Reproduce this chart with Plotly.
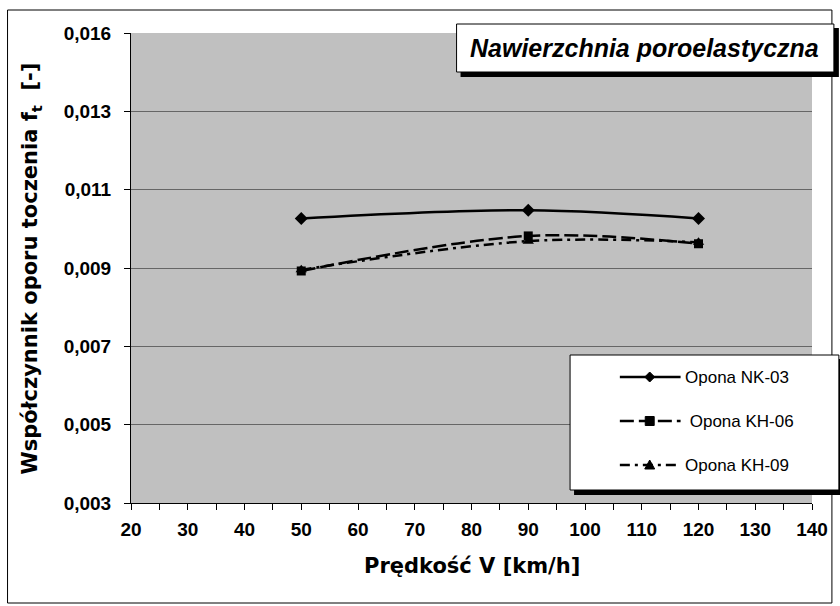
import plotly.graph_objects as go

# ---- data ----
speeds = [50, 90, 120]
nk03 = [0.01063, 0.01085, 0.01063]
kh06 = [0.00922, 0.01016, 0.00995]
kh09 = [0.00925, 0.01002, 0.00999]
series_names = ["Opona NK-03", " Opona KH-06", "Opona KH-09"]

y_tickvals = [0.003, 0.0051, 0.0072, 0.0093, 0.0114, 0.0135, 0.0156]
y_ticktext = ["0,003", "0,005", "0,007", "0,009", "0,011", "0,013", "0,016"]
x_tickvals = list(range(20, 141, 10))
x_ticktext = [str(v) for v in x_tickvals]

title_text = "Nawierzchnia poroelastyczna"
x_title = "Prędkość V [km/h]"
y_title = "Współczynnik oporu toczenia f<sub>t</sub>  [-]"

# ---- layout geometry ----
W, H = 840, 606
ML, MR, MT, MB = 131, 25, 33, 103
PW = W - ML - MR
PH = H - MT - MB


def px(x):
    return (x - ML) / PW


def py(y):
    return (H - MB - y) / PH


BOLD = "DejaVu Sans"
ARIAL = "Liberation Sans"

fig = go.Figure()

styles = [
    dict(dash="solid", symbol="diamond", size=10),
    dict(dash="14px,5px", symbol="square", size=9),
    dict(dash="10px,5px,3px,5px", symbol="triangle-up", size=10),
]
for name, vals, st in zip(series_names, [nk03, kh06, kh09], styles):
    fig.add_trace(go.Scatter(
        x=speeds, y=vals, name=name.strip(), mode="lines+markers",
        line=dict(color="black", width=2.5, dash=st["dash"], shape="spline", smoothing=1),
        marker=dict(symbol=st["symbol"], size=st["size"], color="black"),
        showlegend=False,
    ))

shapes = []
# outer chart frame
shapes.append(dict(type="rect", xref="paper", yref="paper",
                   x0=px(7), x1=px(835), y0=py(603), y1=py(10),
                   line=dict(color="black", width=1), fillcolor="rgba(0,0,0,0)", layer="above"))

# title box with shadow
shapes.append(dict(type="rect", xref="paper", yref="paper",
                   x0=px(462), x1=px(842), y0=py(77), y1=py(28),
                   line=dict(width=0), fillcolor="black", layer="above"))
shapes.append(dict(type="rect", xref="paper", yref="paper",
                   x0=px(458), x1=px(837), y0=py(72), y1=py(24),
                   line=dict(color="black", width=1), fillcolor="white", layer="above"))

# legend box with shadow
shapes.append(dict(type="rect", xref="paper", yref="paper",
                   x0=px(576), x1=px(845), y0=py(495), y1=py(359),
                   line=dict(width=0), fillcolor="black", layer="above"))
shapes.append(dict(type="rect", xref="paper", yref="paper",
                   x0=px(572), x1=px(842), y0=py(490), y1=py(355),
                   line=dict(color="black", width=1), fillcolor="white", layer="above"))

legend_rows = [377, 421, 465]
for st, ly in zip(styles, legend_rows):
    shapes.append(dict(type="line", xref="paper", yref="paper",
                       x0=px(622), x1=px(683), y0=py(ly), y1=py(ly),
                       line=dict(color="black", width=2.5, dash=st["dash"]), layer="above"))
    cx, cy = 652, ly
    if st["symbol"] == "diamond":
        r = 5
        path = (f"M {px(cx-r)},{py(cy)} L {px(cx)},{py(cy-r)} L {px(cx+r)},{py(cy)} "
                f"L {px(cx)},{py(cy+r)} Z")
    elif st["symbol"] == "square":
        r = 4.5
        path = (f"M {px(cx-r)},{py(cy-r)} L {px(cx+r)},{py(cy-r)} L {px(cx+r)},{py(cy+r)} "
                f"L {px(cx-r)},{py(cy+r)} Z")
    else:
        r = 5
        path = (f"M {px(cx)},{py(cy-r)} L {px(cx+r)},{py(cy+r-1)} L {px(cx-r)},{py(cy+r-1)} Z")
    shapes.append(dict(type="path", xref="paper", yref="paper", path=path,
                       fillcolor="black", line=dict(color="black", width=1), layer="above"))

annotations = [
    dict(text=f"<b><i>{title_text}</i></b>", xref="paper", yref="paper",
         x=px(647), y=py(48), xanchor="center", yanchor="middle", showarrow=False,
         font=dict(family=ARIAL, size=25, color="black")),
    dict(text=f"<b>{x_title}</b>", xref="paper", yref="paper",
         x=px(473), y=py(566), xanchor="center", yanchor="middle", showarrow=False,
         font=dict(family=BOLD, size=21, color="black")),
    dict(text=f"<b>{y_title}</b>", xref="paper", yref="paper",
         x=px(31), y=py(268), xanchor="center", yanchor="middle", showarrow=False,
         textangle=-90, font=dict(family=BOLD, size=21, color="black")),
]
for name, ly in zip(series_names, legend_rows):
    annotations.append(dict(text=name, xref="paper", yref="paper",
                            x=px(685), y=py(ly), xanchor="left", yanchor="middle",
                            showarrow=False, font=dict(family=ARIAL, size=17, color="black")))

fig.update_layout(
    width=W, height=H,
    margin=dict(l=ML, r=MR, t=MT, b=MB),
    paper_bgcolor="white", plot_bgcolor="#C0C0C0",
    shapes=shapes, annotations=annotations,
    showlegend=False,
)
fig.update_xaxes(
    range=[20, 140], tickvals=x_tickvals, ticktext=x_ticktext,
    showgrid=False, zeroline=False, showline=True, linecolor="black", linewidth=1,
    ticks="outside", ticklen=6, tickcolor="black", tickwidth=1,
    minor=dict(dtick=5, tick0=20, ticks="outside", ticklen=6, tickcolor="black", showgrid=False),
    tickfont=dict(family=ARIAL, size=19, color="black", weight="bold"),
    ticklabelstandoff=3,
)
fig.update_yaxes(
    range=[0.003, 0.0156], tickvals=y_tickvals, ticktext=y_ticktext,
    showgrid=True, gridcolor="#666666", gridwidth=1, zeroline=False,
    showline=True, linecolor="black", linewidth=1,
    ticks="outside", ticklen=6, tickcolor="black", tickwidth=1,
    tickfont=dict(family=ARIAL, size=19, color="black", weight="bold"),
    ticklabelstandoff=9,
)

fig.write_html("out.html")
